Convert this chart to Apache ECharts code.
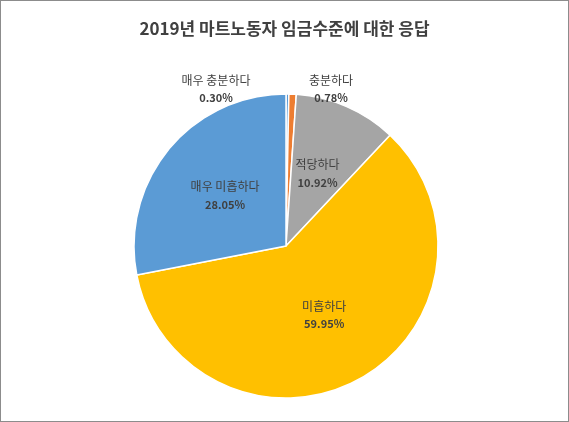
<!DOCTYPE html>
<html><head><meta charset="utf-8">
<script src="https://cdn.jsdelivr.net/npm/echarts@6/dist/echarts.min.js"></script>
<style>html,body{margin:0;padding:0;background:#fff}#c{width:567px;height:420px;border:1px solid #8c8c8c}</style>
</head><body><div id="c"></div>
<script>
const categories = ['매우 충분하다','충분하다','적당하다','미흡하다','매우 미흡하다'];
const values = [0.30, 0.78, 10.92, 59.95, 28.05];
const colors = ['#5B9BD5','#ED7D31','#A5A5A5','#FFC000','#5B9BD5'];
const chart = echarts.init(document.getElementById('c'));
const smallPos = {0:[215,88],1:[330,88]};
chart.setOption({
  animation:false,
  title:{text:'2019년 마트노동자 임금수준에 대한 응답',left:'center',top:14,
    textStyle:{fontFamily:'Noto Sans CJK KR',fontSize:17,fontWeight:'bold',color:'#404040'}},
  series:[{
    type:'pie',center:[285,245],radius:152,startAngle:90,clockwise:true,
    itemStyle:{borderColor:'#fff',borderWidth:1.5},
    label:{position:'inner',formatter:p=>p.name+'\n'+p.value.toFixed(2)+'%',
      fontFamily:'Noto Sans CJK KR',fontSize:12,color:'#404040',lineHeight:18,
      rich:{}},
    labelLine:{show:false},
    labelLayout:function(p){const s=smallPos[p.dataIndex];return s?{x:s[0],y:s[1],align:'center',verticalAlign:'middle'}:{};},
    data:categories.map((n,i)=>({name:n,value:values[i],itemStyle:{color:colors[i]},
      label: i<2?{position:'outside',fontWeight:'normal'}:{}}))
  }]
});
chart.setOption({series:[{label:{formatter:p=>'{n|'+p.name+'}\n{v|'+p.value.toFixed(2)+'%}',
  rich:{n:{fontFamily:'Noto Sans CJK KR',fontSize:12,color:'#404040',lineHeight:18},
        v:{fontFamily:'Noto Sans CJK KR',fontSize:11,fontWeight:'bold',color:'#404040',lineHeight:18}}}}]});
</script></body></html>
